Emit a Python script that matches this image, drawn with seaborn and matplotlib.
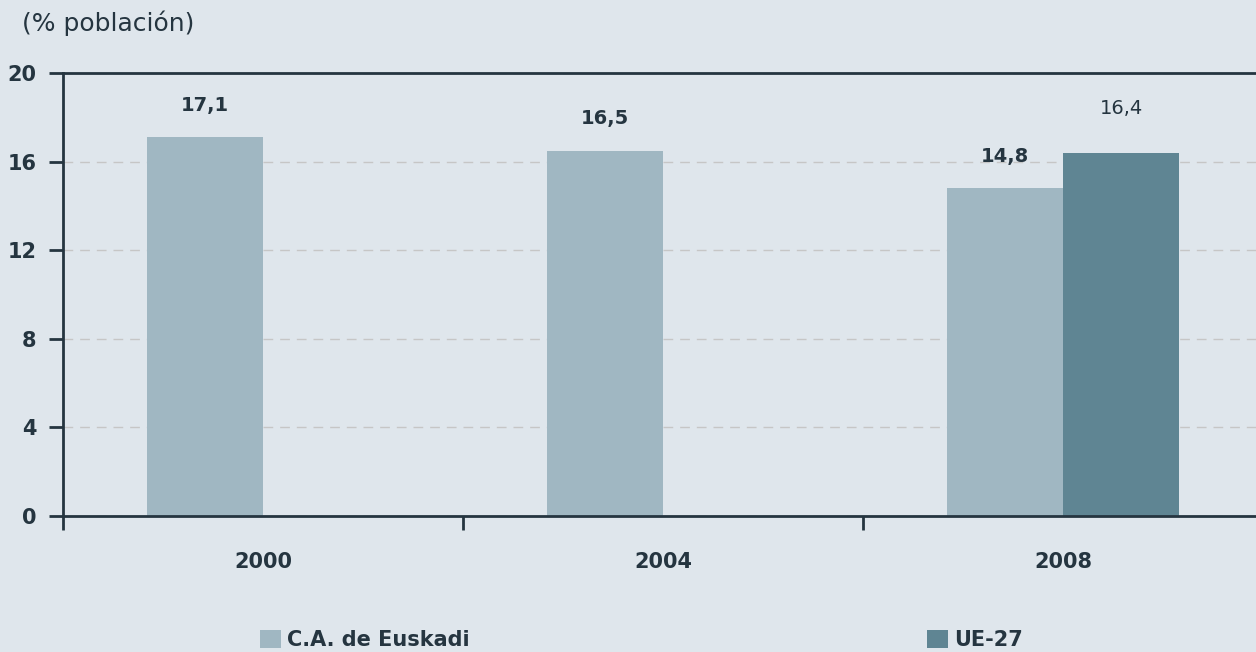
import pandas as pd
import matplotlib.pyplot as plt
import matplotlib.ticker as mticker
import seaborn as sns

# Datos del gráfico
anios = ['2000', '2004', '2008']
serie_euskadi = [17.1, 16.5, 14.8]
serie_ue = [None, None, 16.4]
nombre_euskadi = 'C.A. de Euskadi'
nombre_ue = 'UE-27'

fondo = '#dfe6ec'
color_euskadi = '#a0b7c2'
color_ue = '#5f8593'
color_texto = '#253540'

sns.set_style('white', {'axes.facecolor': fondo, 'figure.facecolor': fondo})
plt.rcParams['font.family'] = ['DejaVu Sans']

# Tabla larga para seaborn
filas = []
for anio, v in zip(anios, serie_euskadi):
    if v is not None:
        filas.append({'anio': anio, 'serie': nombre_euskadi, 'valor': v})
for anio, v in zip(anios, serie_ue):
    if v is not None:
        filas.append({'anio': anio, 'serie': nombre_ue, 'valor': v})
df = pd.DataFrame(filas)

fig = plt.figure(figsize=(12.56, 6.52), dpi=100)
ax = fig.add_axes([63 / 1256, 136 / 652, 1200 / 1256, 443 / 652])

sns.barplot(data=df, x='anio', y='valor', hue='serie', order=anios,
            hue_order=[nombre_euskadi, nombre_ue],
            palette=[color_euskadi, color_ue], width=0.58, saturation=1,
            linewidth=0, edgecolor='none', ax=ax)

# Etiquetas de valores
for cont, serie, peso, pad in zip(ax.containers, [serie_euskadi, serie_ue],
                                  ['bold', 'normal'], [16, 25]):
    vals = [v for v in serie if v is not None]
    etiquetas = [f'{v:.1f}'.replace('.', ',') for v in vals]
    ax.bar_label(cont, labels=etiquetas, padding=pad, fontsize=14,
                 fontweight=peso, color=color_texto)

handles, labels = ax.get_legend_handles_labels()
ax.get_legend().remove()
for h in handles:
    h.set_edgecolor('none')
    h.set_linewidth(0)

# Ejes
ax.set_ylim(0, 20)
ax.set_xlim(-0.5, 2.5)
ax.set_yticks(range(0, 21, 4))
ax.set_xlabel('')
ax.set_ylabel('')
ax.yaxis.grid(True, color='#c6c6c6', linestyle=(0, (7, 5)), linewidth=1)
ax.set_axisbelow(True)
for lado in ['left', 'bottom', 'top', 'right']:
    ax.spines[lado].set_color(color_texto)
    ax.spines[lado].set_linewidth(2)

ax.tick_params(axis='y', which='major', length=10, width=2, pad=9,
               colors=color_texto, labelsize=15, left=True)
ax.tick_params(axis='x', which='major', length=0, pad=26,
               colors=color_texto, labelsize=15)
ax.xaxis.set_minor_locator(mticker.FixedLocator([-0.5, 0.5, 1.5, 2.5]))
ax.tick_params(axis='x', which='minor', length=10, width=2,
               color=color_texto, bottom=True)
for t in ax.get_xticklabels() + ax.get_yticklabels():
    t.set_fontweight('bold')
    t.set_color(color_texto)

fig.text(22 / 1256, 1 - 23 / 652, '(% población)', fontsize=18,
         color=color_texto, va='center', ha='left')

fig.legend(handles, labels, loc='center left',
           bbox_to_anchor=(260 / 1256, 1 - 640 / 652), ncol=2, frameon=False,
           handlelength=1.0, handleheight=1.0, handletextpad=0.3,
           columnspacing=21.95, borderpad=0, borderaxespad=0,
           prop={'size': 15, 'weight': 'bold'}, labelcolor=color_texto)

fig.savefig('out.png', dpi=100, facecolor=fondo)
